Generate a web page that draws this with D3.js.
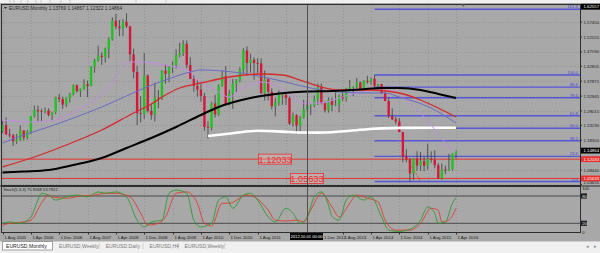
<!doctype html>
<html lang="en">
<head>
<meta charset="UTF-8">
<title>EURUSD Monthly</title>
<script src="https://cdn.jsdelivr.net/npm/d3@7"></script>
<style>
  body { margin: 0; background: #a8a8a8; }
  svg { display: block; font-family: "Liberation Sans", Arial, sans-serif; }
</style>
</head>
<body>
<svg id="chart" width="600" height="253"></svg>
<script>
// monthly candles, Aug 2005 .. Apr 2016
const firstMonth = "2005-08";
const open = [
  1.2127, 1.2336, 1.2025, 1.1993, 1.1795,
  1.1842, 1.2156, 1.1918, 1.2117, 1.2626, 1.2835, 1.2793, 1.2770, 1.2812, 1.2672, 1.2755, 1.3250,
  1.3199, 1.3011, 1.3238, 1.3354, 1.3653, 1.3454, 1.3540, 1.3683, 1.3626, 1.4267, 1.4473, 1.4633,
  1.4590, 1.4860, 1.5180, 1.5790, 1.5600, 1.5545, 1.5757, 1.5607, 1.4674, 1.4095, 1.2730, 1.2700,
  1.3972, 1.2800, 1.2670, 1.3240, 1.3230, 1.4140, 1.4035, 1.4255, 1.4335, 1.4640, 1.4718, 1.5025,
  1.4322, 1.3865, 1.3630, 1.3510, 1.3295, 1.2270, 1.2240, 1.3050, 1.2684, 1.3630, 1.3950, 1.3000,
  1.3380, 1.3700, 1.3800, 1.4165, 1.4805, 1.4390, 1.4500, 1.4390, 1.4380, 1.3390, 1.3860, 1.3440,
  1.2960, 1.3080, 1.3320, 1.3340, 1.3230, 1.2380, 1.2660, 1.2310, 1.2580, 1.2860, 1.2960, 1.2990,
  1.3190, 1.3580, 1.3060, 1.2820, 1.3160, 1.3000, 1.3010, 1.3300, 1.3220, 1.3525, 1.3585, 1.3590,
  1.3745, 1.3485, 1.3800, 1.3770, 1.3870, 1.3635, 1.3690, 1.3390, 1.3130, 1.2630, 1.2525, 1.2450,
  1.2100, 1.1290, 1.1195, 1.0730, 1.1220, 1.0990, 1.1145, 1.0985, 1.1210, 1.1175, 1.1005, 1.0565,
  1.0860, 1.0830, 1.0870, 1.1377
];
const high = [
  1.2464, 1.2585, 1.2212, 1.2045, 1.2040,
  1.2323, 1.2160, 1.2171, 1.2640, 1.2978, 1.2978, 1.2874, 1.2912, 1.2890, 1.2775, 1.3274, 1.3367,
  1.3275, 1.3253, 1.3400, 1.3682, 1.3682, 1.3546, 1.3852, 1.3806, 1.4283, 1.4528, 1.4967, 1.4740,
  1.4902, 1.5240, 1.5905, 1.6020, 1.5818, 1.5842, 1.6038, 1.5620, 1.4867, 1.4310, 1.3295, 1.4719,
  1.4010, 1.3040, 1.3738, 1.3493, 1.4152, 1.4340, 1.4295, 1.4445, 1.4845, 1.5062, 1.5145, 1.5138,
  1.4579, 1.3989, 1.3818, 1.3692, 1.3400, 1.2459, 1.3103, 1.3334, 1.3679, 1.4158, 1.4283, 1.3500,
  1.3862, 1.3860, 1.4248, 1.4882, 1.4940, 1.4700, 1.4579, 1.4549, 1.4547, 1.4140, 1.3870, 1.3550,
  1.3234, 1.3487, 1.3385, 1.3360, 1.3283, 1.2750, 1.2693, 1.2637, 1.3172, 1.3140, 1.3020, 1.3308,
  1.3711, 1.3711, 1.3120, 1.3243, 1.3243, 1.3416, 1.3345, 1.3452, 1.3568, 1.3832, 1.3621, 1.3893,
  1.3775, 1.3825, 1.3967, 1.3906, 1.3993, 1.3700, 1.3700, 1.3444, 1.3221, 1.2887, 1.2600, 1.2570,
  1.2110, 1.1535, 1.1240, 1.1230, 1.1467, 1.1436, 1.1278, 1.1714, 1.1460, 1.1495, 1.1075, 1.1059,
  1.0985, 1.1375, 1.1398, 1.1487
];
const low = [
  1.2064, 1.2010, 1.1914, 1.1640, 1.1709,
  1.1800, 1.1826, 1.1859, 1.2040, 1.2580, 1.2457, 1.2456, 1.2723, 1.2621, 1.2482, 1.2694, 1.3095,
  1.2866, 1.2930, 1.3084, 1.3313, 1.3413, 1.3265, 1.3500, 1.3260, 1.3622, 1.4068, 1.4432, 1.4328,
  1.4400, 1.4546, 1.5135, 1.5510, 1.5285, 1.5285, 1.5553, 1.4430, 1.3882, 1.2330, 1.2421, 1.2550,
  1.2745, 1.2513, 1.2455, 1.2888, 1.3166, 1.3708, 1.3748, 1.4047, 1.4205, 1.4580, 1.4623, 1.4218,
  1.3858, 1.3435, 1.3270, 1.3115, 1.2143, 1.1877, 1.2150, 1.2588, 1.2631, 1.3600, 1.2969, 1.2970,
  1.2870, 1.3427, 1.3750, 1.4060, 1.3968, 1.4069, 1.3837, 1.4050, 1.3362, 1.3146, 1.3146, 1.2857,
  1.2623, 1.2976, 1.3002, 1.3000, 1.2335, 1.2287, 1.2042, 1.2132, 1.2550, 1.2803, 1.2660, 1.2925,
  1.3000, 1.3020, 1.2750, 1.2745, 1.2795, 1.2960, 1.2755, 1.3133, 1.3105, 1.3480, 1.3295, 1.3545,
  1.3477, 1.3475, 1.3705, 1.3672, 1.3586, 1.3503, 1.3366, 1.3130, 1.2570, 1.2500, 1.2358, 1.2100,
  1.1098, 1.1100, 1.0463, 1.0520, 1.0818, 1.0819, 1.0808, 1.0852, 1.1086, 1.0895, 1.0558, 1.0520,
  1.0710, 1.0810, 1.0822, 1.1232
];
const close = [
  1.2336, 1.2025, 1.1993, 1.1795, 1.1842,
  1.2156, 1.1918, 1.2117, 1.2626, 1.2835, 1.2793, 1.2770, 1.2812, 1.2672, 1.2755, 1.3250, 1.3199,
  1.3011, 1.3238, 1.3354, 1.3653, 1.3454, 1.3540, 1.3683, 1.3626, 1.4267, 1.4473, 1.4633, 1.4590,
  1.4860, 1.5180, 1.5790, 1.5600, 1.5545, 1.5757, 1.5607, 1.4674, 1.4095, 1.2730, 1.2700, 1.3972,
  1.2800, 1.2670, 1.3240, 1.3230, 1.4140, 1.4035, 1.4255, 1.4335, 1.4640, 1.4718, 1.5025, 1.4322,
  1.3865, 1.3630, 1.3510, 1.3295, 1.2270, 1.2240, 1.3050, 1.2684, 1.3630, 1.3950, 1.3000, 1.3380,
  1.3700, 1.3800, 1.4165, 1.4805, 1.4390, 1.4500, 1.4390, 1.4380, 1.3390, 1.3860, 1.3440, 1.2960,
  1.3080, 1.3320, 1.3340, 1.3230, 1.2380, 1.2660, 1.2310, 1.2580, 1.2860, 1.2960, 1.2990, 1.3190,
  1.3580, 1.3060, 1.2820, 1.3160, 1.3000, 1.3010, 1.3300, 1.3220, 1.3525, 1.3585, 1.3590, 1.3745,
  1.3485, 1.3800, 1.3770, 1.3870, 1.3635, 1.3690, 1.3390, 1.3130, 1.2630, 1.2525, 1.2450, 1.2100,
  1.1290, 1.1195, 1.0730, 1.1220, 1.0990, 1.1145, 1.0985, 1.1210, 1.1175, 1.1005, 1.0565, 1.0860,
  1.0830, 1.0870, 1.1380, 1.1486
];

// moving averages
const purpleDates = ["2005-08","2006-04","2006-11","2007-04","2007-10","2008-02","2008-05","2008-08","2008-12","2009-04","2009-09","2010-01","2010-04","2010-08","2010-12","2011-04","2011-09","2012-01","2012-05","2012-09","2013-02","2013-07","2014-01","2014-07","2014-11","2015-03","2015-09","2016-01","2016-04"];
const purpleMA = [1.2501,1.2435,1.2501,1.2766,1.3164,1.3562,1.4092,1.4424,1.4424,1.4358,1.4258,1.4092,1.3761,1.3496,1.3264,1.3562,1.3761,1.3661,1.3330,1.3065,1.3065,1.3231,1.3429,1.3496,1.3429,1.3065,1.2335,1.1738,1.1440];
const slateDates = ["2005-08","2006-02","2006-09","2007-04","2007-12","2008-07","2008-12","2009-06","2010-01","2010-04","2011-01","2011-11","2012-05","2012-11","2013-07","2014-04","2014-08","2014-12","2015-09","2016-04"];
const slateMA = [1.1738,1.2004,1.2269,1.2567,1.2932,1.3297,1.3562,1.3827,1.4092,1.4159,1.4092,1.3894,1.3728,1.3562,1.3429,1.3396,1.3396,1.3264,1.2899,1.2401];
const redDates = ["2005-08","2006-05","2007-02","2007-12","2008-09","2009-02","2009-06","2009-10","2010-04","2010-12","2011-09","2012-03","2012-08","2013-02","2013-07","2014-04","2014-12","2015-06","2015-11","2016-04"];
const redMA = [1.0943,1.1274,1.1672,1.2169,1.2733,1.3031,1.3330,1.3562,1.3728,1.3927,1.4026,1.3993,1.3827,1.3595,1.3496,1.3496,1.3396,1.3164,1.2899,1.2600];
const blackDates = ["2005-08","2006-02","2006-09","2007-04","2007-12","2008-07","2009-02","2009-09","2010-04","2010-09","2011-06","2011-11","2012-05","2012-10","2013-05","2014-01","2014-07","2014-12","2015-06","2015-11","2016-04"];
const blackMA = [1.0760,1.0793,1.0843,1.1009,1.1241,1.1573,1.1904,1.2269,1.2667,1.2932,1.3230,1.3330,1.3413,1.3446,1.3463,1.3512,1.3562,1.3562,1.3496,1.3363,1.3230];
const whiteDates = ["2010-06","2011-01","2011-08","2012-03","2012-08","2013-01","2013-05","2013-10","2014-03","2014-07","2014-12","2015-09","2016-04"];
const whiteMA = [1.1970,1.2060,1.2143,1.2116,1.2087,1.2083,1.2096,1.2143,1.2193,1.2222,1.2239,1.2242,1.2246];
const dashDates = ["2015-01","2015-06"];
const dashLine = [1.1440, 1.0474];

// stochastic (5,3,3)
const stochKDates = ["2005-08","2005-10","2006-01","2006-04","2006-06","2006-07","2006-09","2006-11","2007-02","2007-05","2007-08","2007-11","2008-01","2008-04","2008-07","2008-10","2008-12","2009-02","2009-05","2009-07","2009-09","2009-12","2010-02","2010-04","2010-07","2010-09","2010-11","2011-01","2011-04","2011-06","2011-08","2011-11","2012-01","2012-04","2012-06","2012-08","2012-10","2012-12","2013-02","2013-04","2013-05","2013-07","2013-09","2013-11","2014-02","2014-04","2014-07","2014-09","2014-12","2015-03","2015-06","2015-08","2015-10","2015-11","2016-01","2016-03","2016-04"];
const stochK = [20,23,20,34,71,86,82,71,78,82,78,89,86,89,78,27,12,23,27,86,93,86,27,12,20,71,78,53,82,86,71,34,23,53,42,20,34,78,89,60,35,27,71,82,71,78,34,5,2,7,27,56,42,20,23,64,76];
const stochDDates = ["2005-08","2005-10","2006-01","2006-04","2006-07","2006-09","2006-10","2007-02","2007-06","2007-10","2008-01","2008-04","2008-08","2008-11","2009-01","2009-04","2009-06","2009-09","2009-12","2010-03","2010-05","2010-07","2010-10","2010-12","2011-05","2011-07","2011-11","2012-01","2012-04","2012-07","2012-09","2012-11","2013-01","2013-02","2013-05","2013-07","2013-10","2013-12","2014-03","2014-06","2014-08","2014-11","2015-03","2015-06","2015-09","2015-11","2015-12","2016-02","2016-04"];
const stochD = [16,20,22,27,64,82,78,75,80,82,86,86,78,42,16,20,34,86,89,64,20,14,64,64,82,78,49,27,25,27,23,49,78,86,56,34,64,82,75,67,27,5,5,20,53,49,23,27,53];

// fibonacci retracement (May 2014 high -> Mar 2015 low)
const fibStart = "2014-05";
const fibLow = 1.0462, fibHigh = 1.3993;
const fibLevels = [0, 23.6, 38.2, 50, 61.8, 78.6, 88.6, 100, 161.8];
const fibNames = ["0.0","23.6","38.2","50.0","61.8","78.6","88.6","100.0","161.8"];

// horizontal lines
const hLevels = [1.12033, 1.05633];
const hLabelDates = ["2011-08", "2012-05"];

const priceTicks = [1.57450, 1.52520, 1.47590, 1.42805, 1.37875, 1.32945, 1.28015, 1.23230, 1.18300, 1.08440, 1.03655];
// 1 Apr 2012 sits under the crosshair box, so it is not printed
const dateTicks = ["2005-08","2006-04","2006-12","2007-08","2008-04","2008-12","2009-08","2010-04","2010-12","2011-08","2012-12","2013-08","2014-04","2014-12","2015-08","2016-04"];
const tabs = ["EURUSD,Monthly", "EURUSD,Weekly", "EURUSD,Daily", "EURUSD,H4", "EURUSD,Weekly"];
const lastPrice = 1.14864, topPrice = 1.62557;
const crossDate = "2012-10";

const parseM = d3.timeParse("%Y-%m");
const start = parseM(firstMonth);
const idx = s => d3.timeMonth.count(start, parseM(s));

const L = 2, R = 580, T = 5, B = 185, ST = 187, SB = 232;
const x = d3.scaleLinear().domain([0, 128]).range([2.5, 456]);
const y = d3.scaleLinear().domain([fibLow, fibHigh]).range([181.5, 75]);
const ys = d3.scaleLinear().domain([0, 100]).range([232.4, 186.9]);
const fmt = d3.format(".5f");

const svg = d3.select("#chart");
svg.append("rect").attr("width", 600).attr("height", 253).attr("fill", "#a8a8a8");
svg.append("rect").attr("width", 600).attr("height", 3).attr("fill", "#f0f0f0");
[10, 14, 21, 28, 36, 41, 50, 61, 70, 136, 166].forEach(v =>
  svg.append("line").attr("x1", v).attr("x2", v).attr("y1", 0).attr("y2", 3).attr("stroke", "#c9c9c9"));

const clipM = svg.append("clipPath").attr("id", "cm");
clipM.append("rect").attr("x", L).attr("y", T).attr("width", R - L).attr("height", B - T);
const clipS = svg.append("clipPath").attr("id", "cs");
clipS.append("rect").attr("x", L).attr("y", ST).attr("width", R - L).attr("height", SB - ST);

const main = svg.append("g").attr("clip-path", "url(#cm)");
const sub = svg.append("g").attr("clip-path", "url(#cs)");

// grid
const gridStyle = g => g.attr("stroke", "#8e8e8e").attr("stroke-width", 0.8).attr("stroke-dasharray", "1,2");
priceTicks.forEach(p => main.append("line").attr("x1", L).attr("x2", R).attr("y1", Math.round(y(p)) + 0.5).attr("y2", Math.round(y(p)) + 0.5).call(gridStyle));
dateTicks.concat(["2012-04"]).forEach(d => {
  const xx = Math.round(x(idx(d))) + 0.5;
  main.append("line").attr("x1", xx).attr("x2", xx).attr("y1", T).attr("y2", B).call(gridStyle);
  sub.append("line").attr("x1", xx).attr("x2", xx).attr("y1", ST).attr("y2", SB).call(gridStyle);
});

// fibonacci
const fx = x(idx(fibStart));
fibLevels.forEach((lv, i) => {
  const p = fibLow + (fibHigh - fibLow) * lv / 100;
  main.append("line").attr("x1", fx).attr("x2", R).attr("y1", y(p)).attr("y2", y(p))
    .attr("stroke", "#5656d6").attr("stroke-width", 1.4);
  main.append("text").attr("x", 578).attr("y", y(p) - 1).attr("text-anchor", "end")
    .attr("font-size", 4.3).attr("fill", "#4a4ad8").text(fibNames[i]);
});

// horizontal red lines
hLevels.forEach(p => main.append("line").attr("x1", L).attr("x2", R).attr("y1", y(p)).attr("y2", y(p))
  .attr("stroke", "#e8302f").attr("stroke-width", 1));

// candles
const bars = d3.range(open.length).map(i => ({ i, o: open[i], h: high[i], l: low[i], c: close[i] }));
main.selectAll(".wick").data(bars).join("line")
  .attr("x1", d => x(d.i)).attr("x2", d => x(d.i)).attr("y1", d => y(d.h)).attr("y2", d => y(d.l))
  .attr("stroke", "#3c3c3c").attr("stroke-width", 0.8);
main.selectAll(".body").data(bars).join("rect")
  .attr("x", d => x(d.i) - 1.2).attr("width", 2.4)
  .attr("y", d => y(Math.max(d.o, d.c)))
  .attr("height", d => Math.max(0.8, Math.abs(y(d.o) - y(d.c))))
  .attr("fill", d => d.c >= d.o ? "#25c025" : "#d4183c");

// moving averages
const priceLine = d3.line().x(d => x(idx(d[0]))).y(d => y(d[1])).curve(d3.curveMonotoneX);
const drawMA = (dates, vals, color, w, dash) => main.append("path")
  .attr("d", priceLine(d3.zip(dates, vals))).attr("fill", "none")
  .attr("stroke", color).attr("stroke-width", w).attr("stroke-dasharray", dash || null);
drawMA(whiteDates, whiteMA, "#ffffff", 2.6);
drawMA(purpleDates, purpleMA, "#c48ae2", 1);
drawMA(slateDates, slateMA, "#6a6ac6", 1);
drawMA(redDates, redMA, "#d42a2a", 1.3);
drawMA(blackDates, blackMA, "#000000", 2);
drawMA(dashDates, dashLine, "#e0402f", 0.9, "2,1.5");

// labels of the horizontal lines
hLevels.forEach((p, i) => {
  const bx = x(idx(hLabelDates[i]));
  main.append("rect").attr("x", bx + 1).attr("y", y(p) - 5).attr("width", 33).attr("height", 10)
    .attr("fill", "rgba(235,190,190,0.35)").attr("stroke", "#e8302f").attr("stroke-width", 0.8);
  main.append("text").attr("x", bx + 17.5).attr("y", y(p) + 3.4).attr("text-anchor", "middle")
    .attr("font-size", 9.2).attr("fill", "#e8302f").text(fmt(p));
});

// stochastic
sub.append("line").attr("x1", L).attr("x2", R).attr("y1", ys(80)).attr("y2", ys(80)).attr("stroke", "#4a4a4a");
sub.append("line").attr("x1", L).attr("x2", R).attr("y1", ys(20)).attr("y2", ys(20)).attr("stroke", "#4a4a4a");
const stochLine = d3.line().x(d => x(idx(d[0]))).y(d => ys(d[1])).curve(d3.curveMonotoneX);
sub.append("path").attr("d", stochLine(d3.zip(stochDDates, stochD))).attr("fill", "none").attr("stroke", "#e33a30").attr("stroke-width", 0.9);
sub.append("path").attr("d", stochLine(d3.zip(stochKDates, stochK))).attr("fill", "none").attr("stroke", "#2f9a2f").attr("stroke-width", 0.9);
svg.append("text").attr("x", 3.5).attr("y", 191).attr("font-size", 4.1).attr("fill", "#202020")
  .text("Stoch(5,3,3) 75.9168 53.7922");

// crosshair
const cx = Math.round(x(idx(crossDate))) + 0.5;
svg.append("line").attr("x1", cx).attr("x2", cx).attr("y1", T).attr("y2", 233).attr("stroke", "#505050").attr("stroke-width", 1);

// frames
svg.append("rect").attr("x", 0).attr("y", B).attr("width", 600).attr("height", ST - B).attr("fill", "#6a6a6a");
[[T, B], [ST, SB]].forEach(([a, b]) => svg.append("rect").attr("x", L - 0.5).attr("y", a - 0.5)
  .attr("width", R - L + 1).attr("height", b - a + 1).attr("fill", "none").attr("stroke", "#2e2e2e"));
svg.append("path").attr("d", "M461,4.5 h4.5 l-2.25,2.5 z").attr("fill", "#6a6a6a");
svg.append("path").attr("d", "M4,7 h3 l-1.5,2 z").attr("fill", "#2a2a2a");
svg.append("text").attr("x", 9).attr("y", 10).attr("font-size", 4.8).attr("fill", "#2a2a2a")
  .text("EURUSD,Monthly  1.13769 1.14867 1.12322 1.14864");

// price axis (bottom label pushed up to stay inside the window)
priceTicks.forEach(p => {
  const ty = Math.min(y(p), 182.2);
  svg.append("line").attr("x1", R).attr("x2", R + 2).attr("y1", y(p)).attr("y2", y(p)).attr("stroke", "#2e2e2e");
  svg.append("text").attr("x", 583.5).attr("y", ty + 1.6).attr("font-size", 4.3).attr("fill", "#1a1a1a").text(fmt(p));
});
const priceBox = (p, bg) => {
  svg.append("rect").attr("x", 581).attr("y", y(p) - 2.9).attr("width", 19).attr("height", 5.8).attr("fill", bg);
  svg.append("text").attr("x", 583.5).attr("y", y(p) + 1.6).attr("font-size", 4.3).attr("fill", "#ffffff").text(fmt(p));
};
priceBox(topPrice, "#000000");
priceBox(lastPrice, "#000000");
hLevels.forEach(p => priceBox(p, "#e8302f"));

// stochastic axis
[[100, false], [80, true], [20, true], [0, false]].forEach(([v, boxed]) => {
  if (boxed) svg.append("rect").attr("x", 581).attr("y", ys(v) - 2.6).attr("width", 6).attr("height", 5.2).attr("fill", "#1e1e1e");
  svg.append("text").attr("x", 582.3).attr("y", ys(v) + (v === 100 ? 2.6 : 1.5)).attr("font-size", 4.1)
    .attr("fill", boxed ? "#e0e0e0" : "#1a1a1a").text(v);
});

// date axis
const dfmt = d3.timeFormat("%-d %b %Y");
dateTicks.forEach(d => {
  const xx = Math.round(x(idx(d))) + 0.5;
  svg.append("line").attr("x1", xx).attr("x2", xx).attr("y1", SB).attr("y2", SB + 2.5).attr("stroke", "#2e2e2e");
  svg.append("text").attr("x", Math.max(xx + 1, cx + 16.5 > xx && cx - 17.5 < xx + 22 ? cx + 16.5 : 0)).attr("y", 238.8)
    .attr("font-size", 4.3).attr("fill", "#1a1a1a").text(dfmt(parseM(d)));
});
svg.append("rect").attr("x", cx - 17.5).attr("y", 233).attr("width", 33).attr("height", 7).attr("fill", "#000");
svg.append("text").attr("x", cx - 1).attr("y", 238.3).attr("text-anchor", "middle").attr("font-size", 4.1)
  .attr("fill", "#fff").text(d3.timeFormat("%Y.%m.%d 00:00")(parseM(crossDate)));

// tabs
svg.append("rect").attr("x", 0).attr("y", 241).attr("width", 600).attr("height", 12).attr("fill", "#f0f0f0");
svg.append("line").attr("x1", 0).attr("x2", 600).attr("y1", 241.5).attr("y2", 241.5).attr("stroke", "#cfcfcf");
let tx = 2;
tabs.forEach((t, i) => {
  const w = i === 0 ? 50 : (t.length * 2.9 + 6);
  if (i === 0) svg.append("rect").attr("x", tx + 0.5).attr("y", 241.5).attr("width", w).attr("height", 8.5)
    .attr("fill", "#ffffff").attr("stroke", "#8c8c8c").attr("stroke-width", 0.8);
  else svg.append("line").attr("x1", tx + w + 0.5).attr("x2", tx + w + 0.5).attr("y1", 243).attr("y2", 249).attr("stroke", "#cfcfcf");
  svg.append("text").attr("x", tx + 4).attr("y", 248).attr("font-size", 5.1)
    .attr("fill", i === 0 ? "#1a1a1a" : "#7a7a7a").text(t);
  tx += w + 3;
});
svg.append("text").attr("x", 586).attr("y", 248).attr("font-size", 4.5).attr("fill", "#8a8a8a").text("\u25C2");
svg.append("text").attr("x", 594).attr("y", 248).attr("font-size", 4.5).attr("fill", "#8a8a8a").text("\u25B8");
</script>
</body>
</html>
